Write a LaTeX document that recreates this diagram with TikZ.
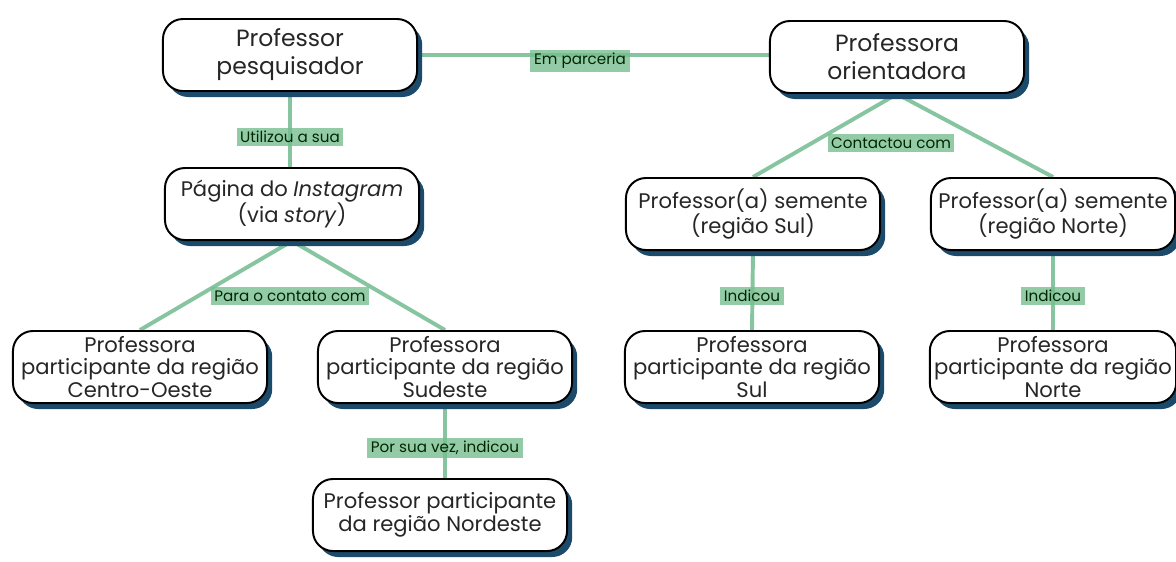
\documentclass[tikz,border=0pt]{standalone}
\usepackage{fontspec}
\setmainfont{Poppins}
\usetikzlibrary{shadows,backgrounds}
\definecolor{linkgreen}{RGB}{134,197,160}
\definecolor{tagfill}{RGB}{120,190,145}
\definecolor{shadowblue}{RGB}{27,74,107}
\tikzset{
	boxnode/.style={draw=black,line width=1.4pt,fill=white,rounded corners=0.5cm,align=center,
		minimum width=6.35cm,minimum height=1.8cm,inner xsep=3pt,inner ysep=2pt,text=black!85,
		font=\fontsize{15}{16}\selectfont,
		drop shadow={shadow xshift=0.13cm,shadow yshift=-0.15cm,fill=shadowblue,opacity=1}},
	bigbox/.style={boxnode,font=\fontsize{16.7}{20}\selectfont},
	tagnode/.style={fill=tagfill,fill opacity=0.8,text opacity=1,text=black!85!green,
		font=\fontsize{10.8}{12}\selectfont,inner sep=2.5pt},
	linkline/.style={draw=linkgreen,line width=2.8pt}
}

\begin{document}
\begin{tikzpicture}[x=0.025cm,y=-0.025cm]
	\useasboundingbox (0,0) rectangle (1176,561);

	\node(pesq) at (290,55)[bigbox]{Professor\\pesquisador};
	\node(orient) at (897,57)[bigbox]{Professora\\orientadora};
	\node(insta) at (292,204)[boxnode]{Página do \textit{Instagram}\\(via \textit{story})};
	\node(sementeSul) at (753,214)[boxnode]{Professor(a) semente\\(região Sul)};
	\node(sementeNorte) at (1053,214)[boxnode,minimum width=6.1cm]{Professor(a) semente\\(região Norte)};
	\node(centro) at (140,367)[boxnode]{Professora\\participante da região\\Centro-Oeste};
	\node(sudeste) at (445,367)[boxnode]{Professora\\participante da região\\Sudeste};
	\node(sul) at (752,367)[boxnode]{Professora\\participante da região\\Sul};
	\node(norte) at (1053,367)[boxnode,minimum width=6.1cm]{Professora\\participante da região\\Norte};
	\node(nordeste) at (440,515)[boxnode]{Professor participante\\da região Nordeste};

	\begin{pgfonlayer}{background}
		\draw[linkline](pesq.east) -- (pesq.east -| orient.west);
		\draw[linkline](pesq.south) -- (pesq.south |- insta.north);
		\draw[linkline](insta.south) -- (centro.north);
		\draw[linkline](insta.south) -- (sudeste.north);
		\draw[linkline](orient.south) -- (sementeSul.north);
		\draw[linkline](orient.south) -- (sementeNorte.north);
		\draw[linkline](sementeSul.south) -- (sul.north);
		\draw[linkline](sementeNorte.south) -- (norte.north);
		\draw[linkline](sudeste.south) -- (sudeste.south |- nordeste.north);
	\end{pgfonlayer}

	\node(parceria) at (580,61)[tagnode]{Em parceria};
	\node(utilizou) at (290,137)[tagnode]{Utilizou a sua};
	\node(contato) at (290,296)[tagnode]{Para o contato com};
	\node(contactou) at (891,143)[tagnode]{Contactou com};
	\node(indicouSul) at (752,296)[tagnode]{Indicou};
	\node(indicouNorte) at (1053,296)[tagnode]{Indicou};
	\node(suavez) at (445,448)[tagnode]{Por sua vez, indicou};
\end{tikzpicture}
\end{document}
